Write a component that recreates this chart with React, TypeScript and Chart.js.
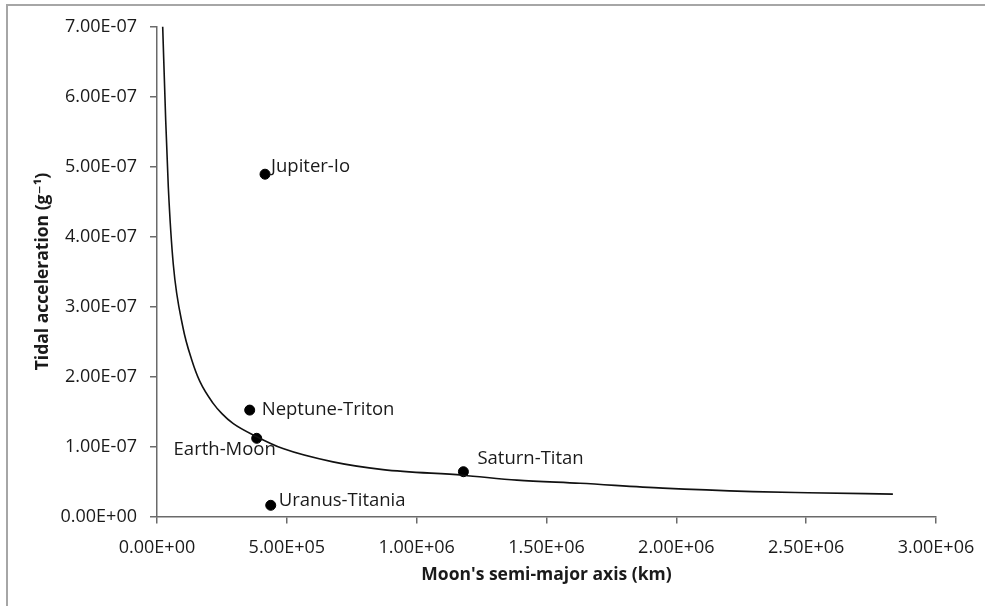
import React, { useEffect, useRef } from "react";
import { Chart, registerables } from "chart.js";

Chart.register(...registerables);

// ---- data ----
const curveX = [21900, 33500, 43500, 62800, 100000, 133600, 165000, 215600, 250000, 292600, 383900, 485000, 677700, 870200, 1178000, 1386000, 1629000, 1948000, 2295000, 2507000, 2834000];
const curveY = [7.0e-7, 5.66e-7, 4.71e-7, 3.6e-7, 2.7e-7, 2.24e-7, 1.93e-7, 1.62e-7, 1.47e-7, 1.33e-7, 1.14e-7, 9.7e-8, 7.8e-8, 6.7e-8, 5.9e-8, 5.2e-8, 4.74e-8, 4.05e-8, 3.56e-8, 3.4e-8, 3.2e-8];

const moonNames = ["Jupiter-Io", "Neptune-Triton", "Earth-Moon", "Uranus-Titania", "Saturn-Titan"];
const moonX = [416000, 357000, 384000, 438000, 1180000];
const moonY = [4.89e-7, 1.52e-7, 1.117e-7, 1.6e-8, 6.4e-8];

const xTickLabels = ["0.00E+00", "5.00E+05", "1.00E+06", "1.50E+06", "2.00E+06", "2.50E+06", "3.00E+06"];
const yTickLabels = ["0.00E+00", "1.00E-07", "2.00E-07", "3.00E-07", "4.00E-07", "5.00E-07", "6.00E-07", "7.00E-07"];

const xTitle = "Moon's semi-major axis (km)";
const yTitle = "Tidal acceleration (g\u207B\u00B9)";

// ---- label placement (styles) ----
const labelStyle: Record<string, { dx: number; dy: number; align: CanvasTextAlign }> = {
  "Jupiter-Io": { dx: 6, dy: -7, align: "left" },
  "Neptune-Triton": { dx: 12, dy: 0, align: "left" },
  "Earth-Moon": { dx: -32, dy: 11, align: "center" },
  "Uranus-Titania": { dx: 8, dy: -5, align: "left" },
  "Saturn-Titan": { dx: 14, dy: -13, align: "left" },
};

const FONT = "'Open Sans', 'DejaVu Sans', sans-serif";
const TEXT = "#1a1a1a";
const AXIS = "#6a6a6a";

const labelPlugin = {
  id: "moonLabels",
  afterDatasetsDraw(chart: any) {
    const meta = chart.getDatasetMeta(1);
    const ctx = chart.ctx;
    ctx.save();
    ctx.font = `18.5px ${FONT}`;
    ctx.fillStyle = TEXT;
    ctx.textBaseline = "middle";
    meta.data.forEach((pt: any, i: number) => {
      const name = moonNames[i];
      const s = labelStyle[name];
      ctx.textAlign = s.align;
      ctx.fillText(name, pt.x + s.dx, pt.y + s.dy);
    });
    ctx.restore();
  },
};

export default function App() {
  const ref = useRef<HTMLCanvasElement>(null);

  useEffect(() => {
    if (!ref.current) return;
    const chart = new Chart(ref.current, {
      type: "scatter",
      data: {
        datasets: [
          {
            type: "line",
            data: curveX.map((x, i) => ({ x, y: curveY[i] })),
            borderColor: "#111",
            borderWidth: 1.6,
            pointRadius: 0,
            cubicInterpolationMode: "monotone",
            fill: false,
          } as any,
          {
            data: moonX.map((x, i) => ({ x, y: moonY[i] })),
            backgroundColor: "#000",
            borderColor: "#000",
            pointRadius: 5,
            pointHoverRadius: 5,
          },
        ],
      },
      options: {
        animation: false,
        responsive: false,
        events: [],
        layout: { padding: { top: 26.5, right: 49, left: 0, bottom: 0 } },
        plugins: { legend: { display: false }, tooltip: { enabled: false } },
        scales: {
          x: {
            type: "linear",
            min: 0,
            max: 3000000,
            afterBuildTicks: (scale: any) => {
              scale.ticks = xTickLabels.map((_, i) => ({ value: i * 500000 }));
            },
            afterFit: (scale: any) => {
              scale.height = 89.5;
              scale.paddingRight = 0;
              scale.paddingLeft = 0;
            },
            border: { display: true, color: AXIS, width: 1.5 },
            grid: { display: true, drawOnChartArea: false, drawTicks: true, tickLength: 7, color: AXIS, lineWidth: 1.5 },
            ticks: {
              color: TEXT,
              font: { family: FONT, size: 18 },
              padding: 14,
              maxRotation: 0,
              callback: (_v: any, i: number) => xTickLabels[i],
            },
            title: {
              display: true,
              text: xTitle,
              color: TEXT,
              font: { family: FONT, size: 17.5, weight: "bold" },
              padding: { top: 0, bottom: 20 },
            },
          },
          y: {
            type: "linear",
            min: 0,
            max: 7e-7,
            afterBuildTicks: (scale: any) => {
              scale.ticks = yTickLabels.map((_, i) => ({ value: i * 1e-7 }));
            },
            afterFit: (scale: any) => {
              scale.width = 157;
              scale.paddingTop = 0;
              scale.paddingBottom = 0;
            },
            border: { display: true, color: AXIS, width: 1.5 },
            grid: { display: true, drawOnChartArea: false, drawTicks: true, tickLength: 7, color: AXIS, lineWidth: 1.5 },
            ticks: {
              color: TEXT,
              font: { family: FONT, size: 18 },
              padding: 13,
              callback: (_v: any, i: number) => yTickLabels[i],
            },
            title: {
              display: true,
              text: yTitle,
              color: TEXT,
              font: { family: FONT, size: 17.5, weight: "bold" },
              padding: { top: 33, bottom: 0 },
            },
          },
        },
      },
      plugins: [labelPlugin],
    });
    return () => chart.destroy();
  }, []);

  return (
    <div style={{ position: "fixed", left: 0, top: 0, width: 985, height: 606, overflow: "hidden", background: "#fff" }}>
      <div
        style={{
          position: "absolute",
          left: 6,
          top: 4,
          width: 1000,
          height: 700,
          border: "2px solid #a6a6a6",
          boxSizing: "border-box",
        }}
      />
      <canvas ref={ref} width={985} height={606} style={{ position: "absolute", left: 0, top: 0, display: "block" }} />
    </div>
  );
}
